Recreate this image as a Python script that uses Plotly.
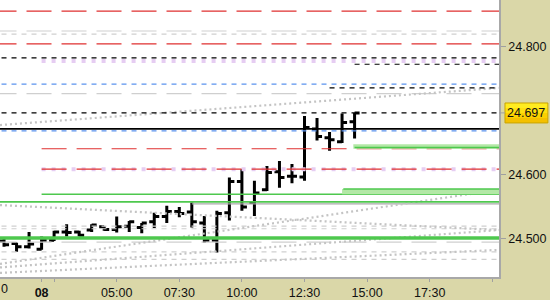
import plotly.graph_objects as go

# ---------------- data ----------------
# 30-minute OHLC bars; x = hours on the chart's session time scale
bar_hours = [0.5, 1.0, 1.5, 2.0, 2.5, 3.0, 3.5, 4.0, 4.5, 5.0, 5.5, 6.0, 6.5, 7.0, 7.5,
             8.0, 8.5, 9.0, 9.5, 10.0, 10.5, 11.0, 11.5, 12.0, 12.5, 13.0, 13.5, 14.0, 14.5]
opens = [24.497, 24.493, 24.488, 24.484, 24.498, 24.511, 24.511, 24.514, 24.519, 24.515,
         24.520, 24.518, 24.527, 24.535, 24.543, 24.542, 24.525, 24.498, 24.541, 24.590,
         24.557, 24.577, 24.605, 24.598, 24.597, 24.672, 24.658, 24.652, 24.683]
highs = [24.503, 24.494, 24.511, 24.504, 24.513, 24.523, 24.513, 24.523, 24.520, 24.535,
         24.528, 24.525, 24.541, 24.552, 24.550, 24.557, 24.536, 24.544, 24.596, 24.609,
         24.591, 24.614, 24.622, 24.617, 24.692, 24.689, 24.667, 24.696, 24.697]
lows = [24.488, 24.480, 24.485, 24.483, 24.497, 24.504, 24.504, 24.511, 24.513, 24.510,
        24.511, 24.509, 24.517, 24.525, 24.534, 24.518, 24.494, 24.479, 24.529, 24.544,
        24.536, 24.575, 24.580, 24.587, 24.591, 24.654, 24.638, 24.650, 24.657]
closes = [24.491, 24.488, 24.492, 24.498, 24.511, 24.510, 24.506, 24.522, 24.515, 24.519,
          24.527, 24.525, 24.535, 24.543, 24.540, 24.527, 24.498, 24.540, 24.590, 24.550,
          24.572, 24.604, 24.596, 24.598, 24.674, 24.660, 24.655, 24.682, 24.697]

last_price = 24.697

# horizontal levels (price, start hour)
red_levels = [24.856, 24.805, 24.641, 24.609]
red_from = [0.0, 0.0, 2.0, 2.0]
gray_long_levels = [24.825, 24.727, 24.495]
gray_short_levels = [24.820, 24.520, 24.516, 24.480, 24.468]
black_dash_levels = [24.783, 24.773, 24.736, 24.697]
black_dash_from = [0.0, 14.5, 13.5, 0.0]
blue_levels = [24.742, 24.669]
lavender_levels = [24.778, 24.609]
lavender_from = [2.0, 2.0]
black_solid_levels = [24.672]
green_levels = [24.570, 24.558]
green_from = [2.0, 0.0]
green_thick_levels = [24.5016]
gray_solid_levels = [24.555]
gray_solid_from = [8.0]

# dotted trend / channel lines (price at left edge, price at right edge)
trend_left = [24.678, 24.553, 24.461, 24.447, 24.4555]
trend_right = [24.736, 24.514, 24.577, 24.483, 24.514]

# highlighted zones (start hour, low, high)
zone_from = [14.45, 14.0]
zone_low = [24.641, 24.570]
zone_high = [24.648, 24.578]
zone_line = [24.643, 24.578]

# axis ticks
x_tick_vals = [2.0, 2.5, 5.0, 7.5, 10.0, 12.5, 15.0, 17.5, 20.0]
x_tick_text = ["<b>08</b>", "", "05:00", "07:30", "10:00", "12:30", "15:00", "17:30", ""]
y_tick_vals = [24.5, 24.6, 24.8]
y_tick_text = ["24.500", "24.600", "24.800"]

# ---------------- figure ----------------
X0, X1 = 0.339, 20.268
Y0, Y1 = 24.4406, 24.8734
XE = 21.0
PANEL = "#dad7a8"
FONT = "Liberation Sans"

fig = go.Figure()


def hline(level, start, color, width, dash):
    fig.add_trace(go.Scatter(x=[start, XE], y=[level, level], mode="lines",
                             line=dict(color=color, width=width, dash=dash),
                             hoverinfo="skip", showlegend=False))


for lv in gray_long_levels:
    hline(lv, 0.0, "#cfcfcf", 1.2, "25px,10px")
for lv in gray_short_levels:
    hline(lv, 0.0, "#cfcfcf", 1.2, "5px,5px")
for lv, st in zip(gray_solid_levels, gray_solid_from):
    hline(lv, st, "#a8a8a8", 1.2, "solid")
for a, b in zip(trend_left, trend_right):
    fig.add_trace(go.Scatter(x=[X0, X1], y=[a, b], mode="lines",
                             line=dict(color="#c4c4c4", width=2.2, dash="2px,3px"),
                             hoverinfo="skip", showlegend=False))
for lv, st in zip(lavender_levels, lavender_from):
    hline(lv, st, "#e6cdf2", 4, "4px,6px")
for lv, st in zip(red_levels, red_from):
    hline(lv, st, "#e03030", 1.2, "25px,10px")
for lv in blue_levels:
    hline(lv, 0.0, "#5b93ee", 1.2, "5px,5px")
for lv, st in zip(black_dash_levels, black_dash_from):
    hline(lv, st, "#000000", 1.2, "5px,5px")
for lv in black_solid_levels:
    hline(lv, 0.0, "#000000", 1.6, "solid")
for lv, st in zip(green_levels, green_from):
    hline(lv, st, "#4ec84e", 1.6, "solid")
for lv in green_thick_levels:
    hline(lv, 0.0, "#4ec84e", 3.5, "solid")

shapes = []
for st, lo, hi, ln in zip(zone_from, zone_low, zone_high, zone_line):
    shapes.append(dict(type="rect", xref="x", yref="y", x0=st, x1=XE, y0=lo, y1=hi,
                       fillcolor="#b3e8a6", line=dict(width=0), layer="above"))
    shapes.append(dict(type="line", xref="x", yref="y", x0=st + 0.05, x1=XE, y0=ln, y1=ln,
                       line=dict(color="#4ec84e", width=1.5), layer="above"))

fig.add_trace(go.Ohlc(x=bar_hours, open=opens, high=highs, low=lows, close=closes,
                      increasing=dict(line=dict(color="#000000", width=3)),
                      decreasing=dict(line=dict(color="#000000", width=3)),
                      tickwidth=0.4, hoverinfo="skip", showlegend=False))

# last-price label on the right scale (gradient look with stacked rects)
grad = ["#ffec20", "#ffe010", "#fbd000", "#f4c000"]
span = (24.7125 - 24.6813) / len(grad)
for i, c in enumerate(grad):
    shapes.append(dict(type="rect", xref="paper", yref="y", x0=1.012, x1=1.098,
                       y0=24.7125 - (i + 1) * span, y1=24.7125 - i * span,
                       fillcolor=c, line=dict(width=0), layer="above"))
shapes.append(dict(type="rect", xref="paper", yref="y", x0=1.012, x1=1.098,
                   y0=24.6813, y1=24.7125, fillcolor="rgba(0,0,0,0)",
                   line=dict(color="#c9a400", width=1), layer="above"))
shapes.append(dict(type="line", xref="paper", yref="y", x0=1.0, x1=1.012,
                   y0=last_price, y1=last_price, line=dict(color="#a0a0a0", width=1)))

annotations = [
    dict(xref="paper", yref="y", x=1.055, y=last_price, text=f"{last_price:.3f}",
         showarrow=False, font=dict(family=FONT, size=12.5, color="#111111"),
         xanchor="center", yanchor="middle"),
    # the tail of the previous-session time label, cut by the chart edge
    dict(xref="paper", yref="paper", x=0.0, y=-11.5 / 277, text="0",
         showarrow=False, font=dict(family=FONT, size=12.5, color="#111111"),
         xanchor="left", yanchor="middle", xshift=-1),
]

fig.update_layout(
    width=550, height=300,
    margin=dict(l=0, r=51, t=0, b=23, pad=0),
    paper_bgcolor=PANEL, plot_bgcolor="#ffffff",
    font=dict(family=FONT, size=12.5, color="#111111"),
    shapes=shapes, annotations=annotations,
    showlegend=False,
    xaxis=dict(range=[X0, X1], showgrid=False, zeroline=False, rangeslider=dict(visible=False),
               tickmode="array", tickvals=x_tick_vals, ticktext=x_tick_text,
               ticks="outside", ticklen=3, tickcolor="#a0a0a0", tickwidth=1,
               showline=True, linecolor="#a8a8a8", linewidth=1.5, fixedrange=True),
    yaxis=dict(range=[Y0, Y1], side="right", showgrid=False, zeroline=False,
               tickmode="array", tickvals=y_tick_vals, ticktext=y_tick_text,
               ticks="outside", ticklen=5, tickcolor="#a0a0a0", tickwidth=1,
               showline=True, linecolor="#a8a8a8", linewidth=1.5, fixedrange=True),
)

fig.write_html("out.html", config=dict(displayModeBar=False))
